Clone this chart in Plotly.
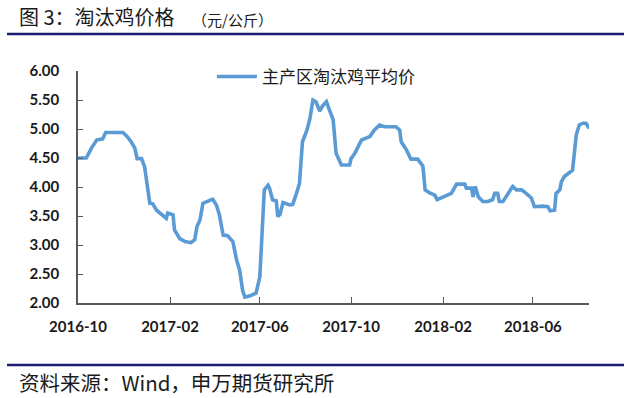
import plotly.graph_objects as go

dates = [
    "2016-10-01", "2016-10-12", "2016-10-19", "2016-10-26", "2016-11-03", "2016-11-07",
    "2016-11-30", "2016-12-05", "2016-12-11", "2016-12-16", "2016-12-19", "2016-12-25",
    "2016-12-29", "2017-01-01", "2017-01-05", "2017-01-09", "2017-01-14", "2017-01-27",
    "2017-01-29", "2017-02-05", "2017-02-07", "2017-02-14", "2017-02-21", "2017-03-01",
    "2017-03-06", "2017-03-09", "2017-03-13", "2017-03-17", "2017-03-24", "2017-03-30",
    "2017-04-04", "2017-04-08", "2017-04-13", "2017-04-19", "2017-04-26", "2017-05-01",
    "2017-05-05", "2017-05-09", "2017-05-12", "2017-05-18", "2017-05-27", "2017-06-01",
    "2017-06-07", "2017-06-12", "2017-06-14", "2017-06-18", "2017-06-23", "2017-06-25",
    "2017-06-28", "2017-07-02", "2017-07-11", "2017-07-15", "2017-07-20", "2017-07-24",
    "2017-07-28", "2017-08-03", "2017-08-07", "2017-08-11", "2017-08-15", "2017-08-20",
    "2017-08-24", "2017-08-29", "2017-09-02", "2017-09-07", "2017-09-11", "2017-09-18",
    "2017-09-29", "2017-10-01", "2017-10-06", "2017-10-15", "2017-10-26", "2017-11-01",
    "2017-11-08", "2017-11-15", "2017-11-30", "2017-12-05", "2017-12-07", "2017-12-14",
    "2017-12-20", "2017-12-29", "2018-01-05", "2018-01-08", "2018-01-14", "2018-01-21",
    "2018-01-24", "2018-01-30", "2018-02-12", "2018-02-19", "2018-03-02", "2018-03-04",
    "2018-03-11", "2018-03-13", "2018-03-16", "2018-03-20", "2018-03-26", "2018-04-02",
    "2018-04-08", "2018-04-11", "2018-04-15", "2018-04-17", "2018-04-22", "2018-04-26",
    "2018-05-01", "2018-05-05", "2018-05-10", "2018-05-17", "2018-05-23", "2018-05-30",
    "2018-06-03", "2018-06-14", "2018-06-21", "2018-06-24", "2018-06-30", "2018-07-02",
    "2018-07-07", "2018-07-09", "2018-07-13", "2018-07-20", "2018-07-24", "2018-07-29",
    "2018-08-02", "2018-08-07", "2018-08-11", "2018-08-15",
]

prices = [
    4.50, 4.50, 4.67, 4.81, 4.83, 4.94,
    4.94, 4.88, 4.78, 4.67, 4.49, 4.49,
    4.35, 4.12, 3.72, 3.71, 3.60, 3.46,
    3.55, 3.52, 3.26, 3.11, 3.06, 3.04,
    3.09, 3.32, 3.43, 3.72, 3.75, 3.79,
    3.69, 3.52, 3.17, 3.16, 3.06, 2.74,
    2.57, 2.22, 2.10, 2.12, 2.17, 2.45,
    3.95, 4.03, 3.98, 3.78, 3.76, 3.49,
    3.53, 3.73, 3.69, 3.70, 3.89, 4.06,
    4.78, 4.98, 5.18, 5.50, 5.47, 5.31,
    5.40, 5.47, 5.33, 5.16, 4.58, 4.38,
    4.38, 4.49, 4.58, 4.81, 4.87, 4.98,
    5.07, 5.04, 5.04, 4.98, 4.78, 4.64,
    4.48, 4.48, 4.36, 3.95, 3.90, 3.86,
    3.78, 3.81, 3.89, 4.05, 4.05, 3.98,
    3.98, 3.83, 4.01, 3.83, 3.75, 3.75,
    3.78, 3.89, 3.89, 3.75, 3.75, 3.83,
    3.92, 4.01, 3.95, 3.95, 3.89, 3.81,
    3.66, 3.67, 3.66, 3.59, 3.60, 3.89,
    3.95, 4.09, 4.18, 4.24, 4.29, 4.90,
    5.07, 5.10, 5.10, 5.01,
]

series_name = "主产区淘汰鸡平均价"
title_main = "图 3：淘汰鸡价格"
title_unit = "（元/公斤）"
source_text = "资料来源：Wind，申万期货研究所"

y_ticks = [2.0, 2.5, 3.0, 3.5, 4.0, 4.5, 5.0, 5.5, 6.0]
x_range = ["2016-10-01", "2018-08-15"]

CJK = "Noto Sans CJK SC"
NUM = "Lato"
NAVY = "#1c1c72"
AXIS = "#595959"

PLOT_L, PLOT_R, PLOT_T, PLOT_B = 78, 589, 71, 303
PW, PH = PLOT_R - PLOT_L, PLOT_B - PLOT_T


def px(xp):
    return (xp - PLOT_L) / PW


def py(yp):
    return (PLOT_B - yp) / PH


fig = go.Figure()
fig.add_trace(go.Scatter(
    x=dates, y=prices, mode="lines", name=series_name,
    line=dict(color="#5B9BD5", width=3.6),
))

fig.update_layout(
    width=640, height=398,
    margin=dict(l=PLOT_L, r=640 - PLOT_R, t=PLOT_T, b=398 - PLOT_B),
    paper_bgcolor="white", plot_bgcolor="white",
    showlegend=True,
    legend=dict(
        x=0.262, y=py(77), xanchor="left", yanchor="middle",
        font=dict(family=CJK, size=17, color="#1a1a1a"),
        bgcolor="rgba(0,0,0,0)", itemwidth=40,
    ),
    xaxis=dict(
        type="date", range=x_range,
        tick0="2016-10-01", dtick="M4", tickformat="%Y-%m",
        showgrid=False, zeroline=False,
        showline=True, linecolor=AXIS, linewidth=1.5,
        ticks="inside", ticklen=6, tickcolor=AXIS, tickwidth=1.2,
        tickfont=dict(family=NUM, size=15, color="#1a1a1a", weight="bold"),
        ticklabelstandoff=9,
    ),
    yaxis=dict(
        range=[2, 6], tickvals=y_ticks, tickformat=".2f",
        showgrid=False, zeroline=False,
        showline=True, linecolor=AXIS, linewidth=1.5,
        ticks="inside", ticklen=5, tickcolor=AXIS, tickwidth=1.2,
        tickfont=dict(family=NUM, size=15, color="#1a1a1a", weight="bold"),
        ticklabelstandoff=14,
    ),
    shapes=[
        dict(type="line", xref="paper", yref="paper",
             x0=px(7), x1=px(624), y0=py(34), y1=py(34),
             line=dict(color=NAVY, width=2.5)),
        dict(type="line", xref="paper", yref="paper",
             x0=px(7), x1=px(624), y0=py(365), y1=py(365),
             line=dict(color=NAVY, width=2.5)),
    ],
    annotations=[
        dict(text=title_main, xref="paper", yref="paper",
             x=px(17), y=py(17), xanchor="left", yanchor="middle",
             showarrow=False, font=dict(family=CJK, size=20, color="#1a1a1a")),
        dict(text=title_unit, xref="paper", yref="paper",
             x=px(190), y=py(19), xanchor="left", yanchor="middle",
             showarrow=False, font=dict(family=CJK, size=15, color="#1a1a1a")),
        dict(text=source_text, xref="paper", yref="paper",
             x=px(17), y=py(382), xanchor="left", yanchor="middle",
             showarrow=False, font=dict(family=CJK, size=20.5, color="#1a1a1a")),
    ],
)

# remove the page's default body margin so the 640x398 figure fills the window
fig.write_html(
    "out.html",
    config={"displayModeBar": False},
    post_script="document.body.style.margin='0';",
)
